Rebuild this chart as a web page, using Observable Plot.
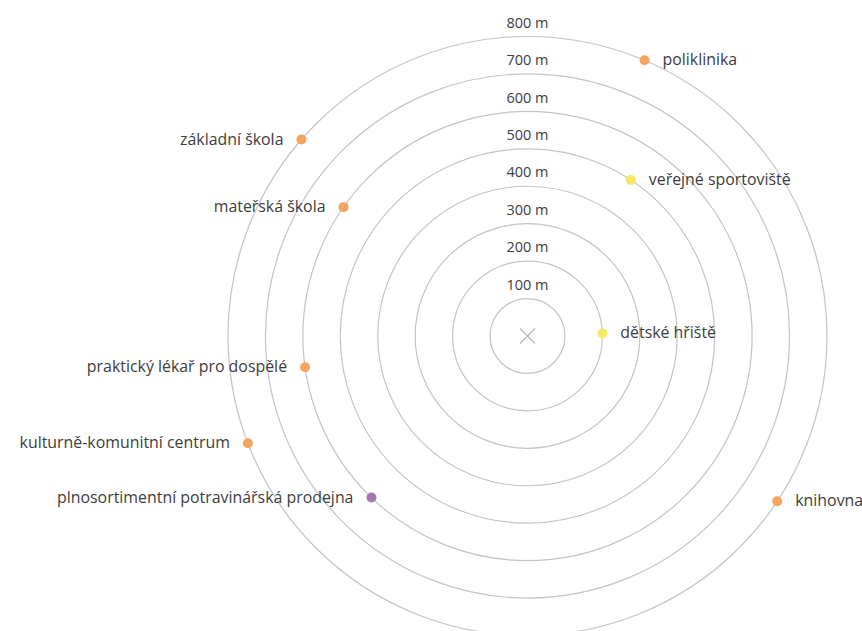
<!DOCTYPE html>
<html>
<head>
<meta charset="utf-8">
<script src="https://cdn.jsdelivr.net/npm/d3@7"></script>
<script src="https://cdn.jsdelivr.net/npm/@observablehq/plot@0.6"></script>
<style>
  html, body { margin: 0; padding: 0; background: #fff; }
  #chart svg { display: block; }
</style>
</head>
<body>
<div id="chart"></div>
<script>
// Data
const places = ["dětské hřiště", "veřejné sportoviště", "poliklinika", "základní škola", "mateřská škola",
  "praktický lékař pro dospělé", "kulturně-komunitní centrum", "plnosortimentní potravinářská prodejna", "knihovna"];
const distances = [200, 500, 800, 800, 600, 600, 800, 600, 800]; // metres
const bearings = [88, 33.5, 23, 311, 305, 262, 249, 224, 123.5]; // degrees clockwise from north
const groups = ["sport", "sport", "service", "service", "service", "service", "service", "shop", "service"];
const ringValues = [100, 200, 300, 400, 500, 600, 700, 800];
const ringLabels = ["100 m", "200 m", "300 m", "400 m", "500 m", "600 m", "700 m", "800 m"];

const groupNames = ["sport", "service", "shop"];
const groupColors = ["#f6e96a", "#f4a45c", "#a477b4"];

const rad = Math.PI / 180;
const pts = places.map((name, i) => ({
  name,
  x: distances[i] * Math.sin(bearings[i] * rad),
  y: distances[i] * Math.cos(bearings[i] * rad),
  left: bearings[i] > 180,
  group: groups[i]
}));
const rings = ringValues.map((v, i) => ({v, label: ringLabels[i]}));

// Layout
const W = 862, H = 671, cx = 527, cy = 335.5, R = 299.5;
const k = 800 / R;

const chart = Plot.plot({
  width: W,
  height: H,
  margin: 0,
  style: {fontFamily: "'Open Sans', sans-serif", fontSize: "14px", color: "#3d3d3d", background: "#fff"},
  x: {domain: [-cx * k, (W - cx) * k], axis: null},
  y: {domain: [-(H - cy) * k, cy * k], axis: null},
  r: {type: "linear", domain: [0, 800], range: [0, R]},
  color: {type: "ordinal", domain: groupNames, range: groupColors},
  marks: [
    Plot.dot(rings, {x: () => 0, y: () => 0, r: "v", stroke: "#c4c4c4", strokeWidth: 1.2, fill: "none"}),
    Plot.text(rings, {x: () => 0, y: "v", text: "label", dy: -13.5, fill: "#3d3d3d", fontSize: 14.5}),
    Plot.dot([{x: 0, y: 0}], {x: "x", y: "y", symbol: "times", r: 7, stroke: "#b0b0b0", strokeWidth: 1.2}),
    Plot.dot(pts, {x: "x", y: "y", r: 5, fill: "group", stroke: "none"}),
    Plot.text(pts.filter(d => !d.left), {x: "x", y: "y", text: "name", textAnchor: "start", dx: 18, fill: "#3d3d3d", fontSize: 15.9}),
    Plot.text(pts.filter(d => d.left), {x: "x", y: "y", text: "name", textAnchor: "end", dx: -18, fill: "#3d3d3d", fontSize: 15.9})
  ]
});
document.getElementById("chart").appendChild(chart);
</script>
</body>
</html>
